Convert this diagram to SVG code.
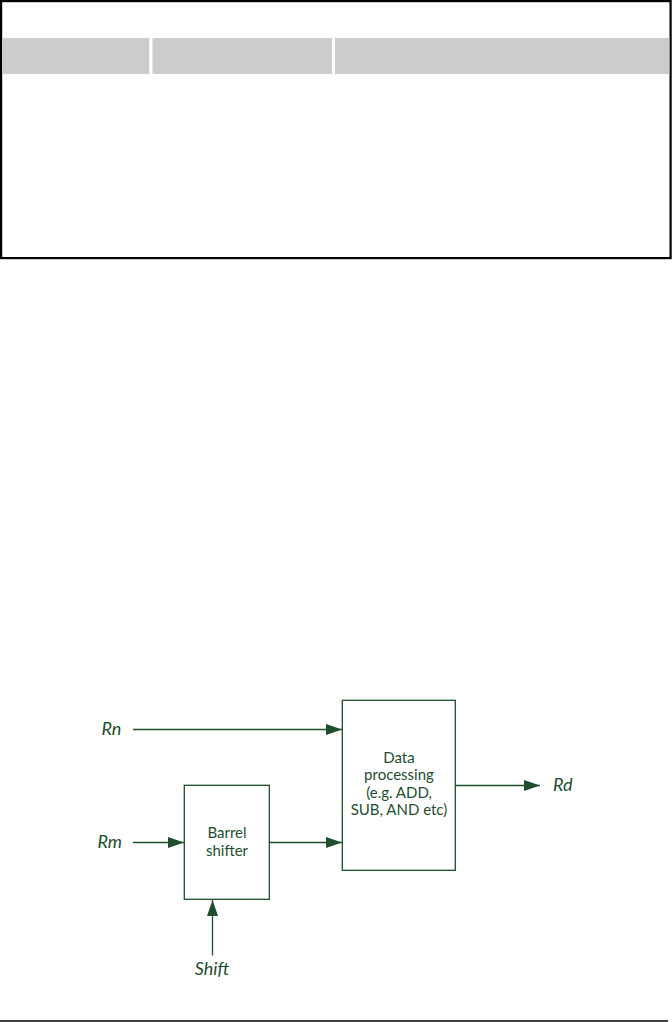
<svg xmlns="http://www.w3.org/2000/svg" width="672" height="1022" viewBox="0 0 672 1022">
<style>
.box{fill:none;stroke:#1d4f2c;stroke-width:1.3}
.wire{fill:none;stroke:#1d4f2c;stroke-width:1.3}
.lbl{font-family:Lato,"Open Sans",sans-serif;font-style:italic;font-size:18px;fill:#1d4f2c}
.txt{font-family:Lato,"Open Sans",sans-serif;font-size:15px;fill:#1d4f2c;text-anchor:middle}
.hdr{fill:#cccccc}
</style>
<defs>
<marker id="arr" markerUnits="userSpaceOnUse" markerWidth="16" markerHeight="11" refX="16" refY="5.5" orient="auto">
<path d="M0,0 L16,5.5 L0,11 Z" fill="#1d4f2c"/>
</marker>
</defs>
<rect width="672" height="1022" fill="#ffffff"/>
<g id="table">
<rect x="1.1" y="1.1" width="669.5" height="257" fill="none" stroke="#000" stroke-width="2.2"/>
<rect class="hdr" x="2.2" y="38" width="147" height="36"/>
<rect class="hdr" x="152.5" y="38" width="179.5" height="36"/>
<rect class="hdr" x="335" y="38" width="334.3" height="36"/>
</g>
<line id="footer-rule" x1="0" y1="1021" x2="668" y2="1021" stroke="#000" stroke-width="1.6"/>
<g id="connectors">
<path class="wire" d="M133,729.5 H342" marker-end="url(#arr)"/>
<path class="wire" d="M133,842.5 H184" marker-end="url(#arr)"/>
<path class="wire" d="M269,842.5 H342" marker-end="url(#arr)"/>
<path class="wire" d="M455,785.5 H540" marker-end="url(#arr)"/>
<path class="wire" d="M212.5,955.5 V900" marker-end="url(#arr)"/>
</g>
<g id="barrel-shifter">
<rect class="box" x="184.3" y="785.3" width="85" height="114"/>
<text class="txt" x="227" y="838.3">Barrel</text>
<text class="txt" x="227" y="856.3">shifter</text>
</g>
<g id="data-processing">
<rect class="box" x="342.3" y="700.3" width="113" height="170"/>
<text class="txt" x="399" y="762.7">Data</text>
<text class="txt" x="399" y="780.2">processing</text>
<text class="txt" x="399" y="797.7">(e.g. ADD,</text>
<text class="txt" x="399" y="815.2">SUB, AND etc)</text>
</g>
<g id="rn"><text class="lbl" x="101.5" y="735">Rn</text></g>
<g id="rm"><text class="lbl" x="97.5" y="848">Rm</text></g>
<g id="rd"><text class="lbl" x="553" y="791">Rd</text></g>
<g id="shift"><text class="lbl" x="212" y="975" text-anchor="middle">Shift</text></g>
</svg>
